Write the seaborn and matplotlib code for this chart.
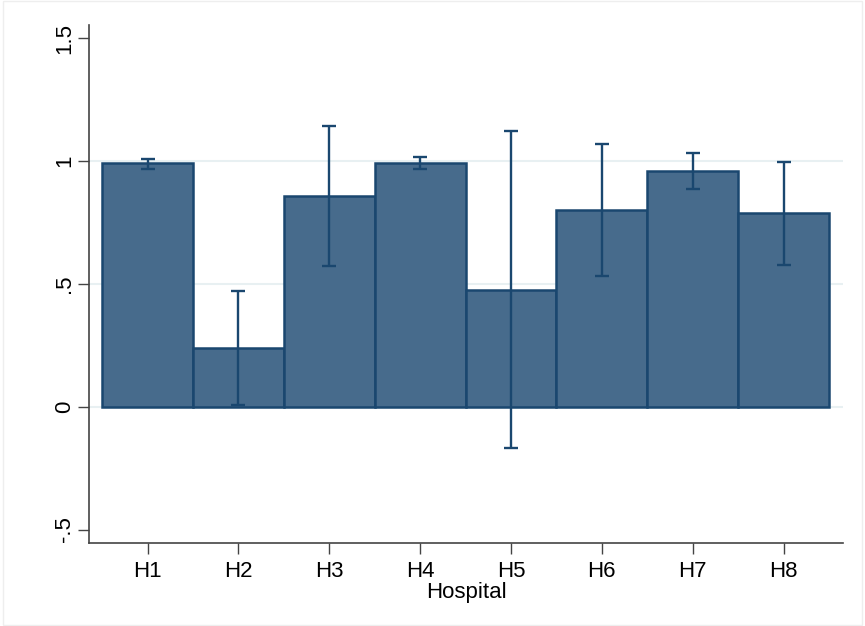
import matplotlib
matplotlib.use('Agg')
import matplotlib.pyplot as plt
import matplotlib.patches as mpatches
import seaborn as sns
import pandas as pd

# Valores
hospitais = ['H1', 'H2', 'H3', 'H4', 'H5', 'H6', 'H7', 'H8']
media = [0.990, 0.239, 0.858, 0.992, 0.475, 0.800, 0.959, 0.788]
ic_inf = [0.968, 0.006, 0.573, 0.967, -0.170, 0.531, 0.885, 0.578]
ic_sup = [1.010, 0.472, 1.142, 1.015, 1.122, 1.070, 1.034, 0.997]

y_ticks = [-0.5, 0, 0.5, 1, 1.5]
y_tick_labels = ['-.5', '0', '.5', '1', '1.5']

df = pd.DataFrame({'hospital': hospitais, 'media': media,
                   'inf': ic_inf, 'sup': ic_sup})

sns.set_style('white')
plt.rcParams['font.family'] = ['Liberation Sans', 'DejaVu Sans']
plt.rcParams['text.color'] = 'black'
plt.rcParams['xtick.color'] = 'black'
plt.rcParams['ytick.color'] = 'black'
plt.rcParams['axes.labelcolor'] = 'black'

navy = '#1a476f'
fill = '#476b8c'

fig = plt.figure(figsize=(8.65, 6.26), dpi=100)
ax = fig.add_axes([0.1029, 0.1326, 0.8717, 0.8274])

# Linhas de grade (sem as extremidades, estilo Stata)
for y in [0, 0.5, 1]:
    ax.axhline(y, color='#e8f0f2', linewidth=1.5, zorder=0)

sns.barplot(data=df, x='hospital', y='media', color=fill, saturation=1,
            width=1.0, edgecolor=navy, linewidth=1.8, errorbar=None,
            ax=ax, zorder=2)

# Intervalos de confiança
pos = range(len(hospitais))
err_baixo = [m - i for m, i in zip(media, ic_inf)]
err_cima = [s - m for m, s in zip(media, ic_sup)]
ax.errorbar(pos, media, yerr=[err_baixo, err_cima], fmt='none',
            ecolor=navy, elinewidth=1.7, capsize=5, capthick=1.7, zorder=3)

ax.set_xlim(-0.645, 7.655)
ax.set_ylim(-0.5547, 1.5535)
ax.set_yticks(y_ticks)
ax.set_yticklabels(y_tick_labels, rotation=90, va='center')
ax.set_xlabel('Hospital', fontsize=16, labelpad=0)
ax.set_ylabel('')

ax.tick_params(axis='both', which='major', labelsize=16, length=8,
               width=1, color='#444444', direction='out', bottom=True, left=True)
ax.tick_params(axis='y', pad=2)
ax.tick_params(axis='x', pad=5)

sns.despine(ax=ax)
for s in ['left', 'bottom']:
    ax.spines[s].set_color('#444444')
    ax.spines[s].set_linewidth(1.2)

# Borda fina da figura
fig.patches.append(mpatches.Rectangle((0.003, 0.002), 0.994, 0.996,
                                      transform=fig.transFigure, fill=False,
                                      edgecolor='#eeeeee', linewidth=1))

fig.savefig('out.png', dpi=100)
